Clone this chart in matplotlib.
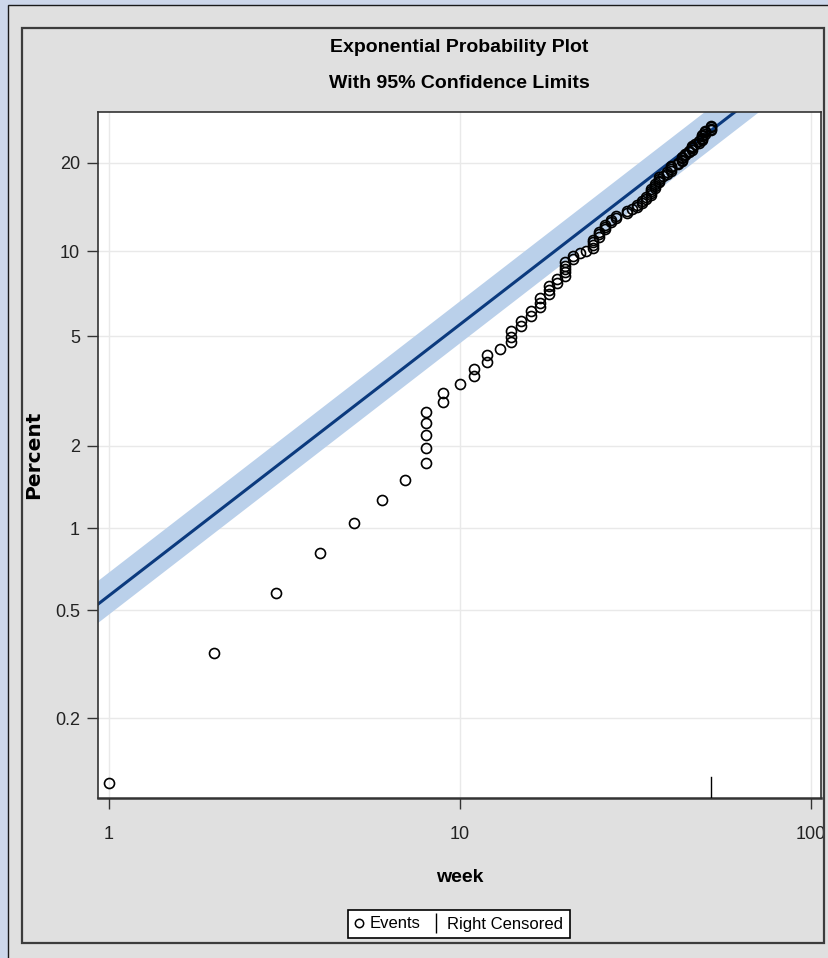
import numpy as np
import matplotlib.pyplot as plt
from matplotlib.lines import Line2D
from matplotlib.patches import Rectangle
from matplotlib.ticker import FixedLocator, FixedFormatter, NullLocator

# arrests per week (events); everybody else is right censored at week 52
event_weeks = [1, 2, 3, 4, 5, 6, 7, 8, 9, 10, 11, 12, 13, 14, 15, 16, 17, 18, 19,
               20, 21, 22, 23, 24, 25, 26, 27, 28, 30, 31, 32, 33, 34, 35, 36, 37,
               38, 39, 40, 42, 43, 44, 45, 46, 47, 48, 49, 50, 52]
event_counts = [1, 1, 1, 1, 1, 1, 1, 5, 2, 1, 2, 2, 1, 3, 2, 2, 3, 3, 2,
                5, 2, 1, 1, 4, 3, 3, 2, 2, 2, 1, 2, 2, 2, 4, 3, 4,
                1, 2, 4, 2, 4, 2, 2, 4, 1, 2, 5, 3, 4]
censored_weeks = [52]
n_subjects = 432

# fitted exponential mean (weeks) and the 95% band around it
theta = 177.0
theta_upper_pct = theta / 1.226
theta_lower_pct = theta * 1.165

x_ticks = [1, 10, 100]
x_tick_labels = ['1', '10', '100']
y_ticks = [0.2, 0.5, 1, 2, 5, 10, 20]
y_tick_labels = ['0.2', '0.5', '1', '2', '5', '10', '20']

W, H = 829, 958
plt.rcParams['font.family'] = ['Liberation Sans', 'DejaVu Sans']


def fwd(p):
    p = np.clip(np.asarray(p, dtype=float), 1e-9, 99.999)
    return np.log10(-np.log(1 - p / 100))


def inv(y):
    return 100 * (1 - np.exp(-10 ** np.asarray(y, dtype=float)))


def px(x, y):
    return x / W, 1 - y / H


weeks = np.repeat(event_weeks, event_counts)
rank = np.arange(1, len(weeks) + 1)
percent = 100 * (rank - 0.5) / n_subjects

fig = plt.figure(figsize=(W / 100, H / 100), dpi=100, facecolor='#cdd7ea')

# gray panel and graph frame
fig.add_artist(Rectangle(px(8, 970), 1.2, (970 - 5) / H, transform=fig.transFigure,
                         facecolor='#e0e0e0', edgecolor='#1a1a1a', lw=1, zorder=0))
fig.add_artist(Rectangle(px(22, 943), (824 - 22) / W, (943 - 28) / H, transform=fig.transFigure,
                         fill=False, edgecolor='#3c3c3c', lw=1.6, zorder=1))

x0, y0 = px(98, 798)
ax = fig.add_axes([x0, y0, (821 - 98) / W, (798 - 112) / H])
ax.set_facecolor('white')

ax.set_xscale('log')
ax.set_yscale('function', functions=(fwd, inv))
ax.set_xlim(0.9334, 107.1)
ax.set_ylim(0.1017, 29.1)

t = np.logspace(np.log10(0.9), np.log10(110), 300)
ax.fill_between(t, 100 * (1 - np.exp(-t / theta_lower_pct)),
                100 * (1 - np.exp(-t / theta_upper_pct)),
                color='#bad0ea', lw=0, zorder=1)
ax.plot(t, 100 * (1 - np.exp(-t / theta)), color='#0b3a7e', lw=2.2, zorder=2)

ax.plot(weeks, percent, 'o', mfc='none', mec='black', ms=7.2, mew=1.2, zorder=3)
for cw in censored_weeks:
    ax.axvline(cw, ymin=0, ymax=21 / 686, color='black', lw=1, zorder=3)

ax.xaxis.set_major_locator(FixedLocator(x_ticks))
ax.xaxis.set_major_formatter(FixedFormatter(x_tick_labels))
ax.xaxis.set_minor_locator(NullLocator())
ax.yaxis.set_major_locator(FixedLocator(y_ticks))
ax.yaxis.set_major_formatter(FixedFormatter(y_tick_labels))
ax.yaxis.set_minor_locator(NullLocator())
ax.grid(True, color='#e9e9e9', lw=1)
ax.set_axisbelow(True)

ax.tick_params(axis='both', length=8, width=1, color='#333333', labelsize=13,
               labelcolor='#222222')
ax.tick_params(axis='x', pad=12)
ax.tick_params(axis='y', pad=5)
for s in ax.spines.values():
    s.set_color('#333333')
    s.set_linewidth(1.2)
ax.spines['bottom'].set_linewidth(1.8)

fig.text(*px(459.5, 48), 'Exponential Probability Plot', ha='center', va='center',
         fontsize=14, fontweight='bold')
fig.text(*px(459.5, 84), 'With 95% Confidence Limits', ha='center', va='center',
         fontsize=14, fontweight='bold')
fig.text(*px(459.5, 878), 'week', ha='center', va='center', fontsize=14, fontweight='bold')
fig.text(*px(34, 455), 'Percent', ha='center', va='center', rotation=90,
         fontsize=14.5, fontweight='bold', family=['DejaVu Sans'])

handles = [Line2D([], [], ls='none', marker='o', mfc='none', mec='black', ms=6, mew=1.1),
           Line2D([], [], ls='none', marker='|', color='black', ms=14, mew=1)]
leg = fig.legend(handles, ['Events', 'Right Censored'], loc='center',
                 bbox_to_anchor=px(459, 924), ncol=2, frameon=True, fancybox=False,
                 framealpha=1, edgecolor='black', fontsize=12, handlelength=0.5,
                 handletextpad=0.4, columnspacing=0.7, borderpad=0.4)
leg.get_frame().set_linewidth(1.2)

fig.savefig('out.png', dpi=100, facecolor=fig.get_facecolor())
